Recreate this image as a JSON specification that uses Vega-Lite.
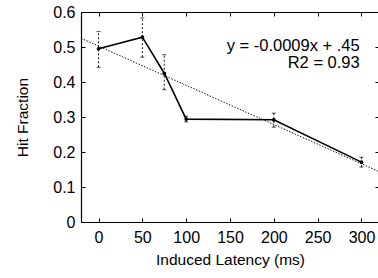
{
  "$schema": "https://vega.github.io/schema/vega-lite/v6.json",
  "autosize": {"type": "none"},
  "padding": {"left": 81, "top": 12, "right": 0, "bottom": 56},
  "width": 298,
  "height": 210,
  "background": "white",
  "config": {
    "view": {"stroke": null},
    "font": "Liberation Sans",
    "axis": {
      "domainColor": "black", "domainWidth": 1.2, "tickColor": "black", "tickSize": -4,
      "grid": false, "labelFont": "Liberation Sans", "labelFontSize": 16, "labelColor": "black",
      "titleFont": "Liberation Sans", "titleFontSize": 15.5, "titleFontWeight": "normal", "titleColor": "black"
    }
  },
  "datasets": {
    "pts": [
      {"latency": 0, "hit": 0.495, "lo": 0.442, "hi": 0.544},
      {"latency": 50, "hit": 0.528, "lo": 0.471, "hi": 0.583},
      {"latency": 75, "hit": 0.425, "lo": 0.378, "hi": 0.478},
      {"latency": 100, "hit": 0.294, "lo": 0.286, "hi": 0.302},
      {"latency": 200, "hit": 0.292, "lo": 0.271, "hi": 0.311},
      {"latency": 300, "hit": 0.171, "lo": 0.157, "hi": 0.185}
    ],
    "trend": [
      {"latency": -20, "hit": 0.525},
      {"latency": 320, "hit": 0.144}
    ],
    "notes": [
      {"latency": 298, "hit": 0.503, "label": "y = -0.0009x + .45"},
      {"latency": 298, "hit": 0.454, "label": "R2 = 0.93"}
    ]
  },
  "resolve": {"axis": {"x": "independent", "y": "independent"}},
  "layer": [
    {
      "data": {"name": "pts"},
      "mark": {"type": "line", "color": "black", "strokeWidth": 1.6, "clip": true},
      "encoding": {
        "x": {"field": "latency", "type": "quantitative",
              "scale": {"domain": [-20, 320], "nice": false, "zero": false},
              "axis": {"values": [0, 50, 100, 150, 200, 250, 300], "title": "Induced Latency (ms)", "labelPadding": 11, "titlePadding": 7, "orient": "bottom"}},
        "y": {"field": "hit", "type": "quantitative",
              "scale": {"domain": [0, 0.6], "nice": false},
              "axis": {"values": [0, 0.1, 0.2, 0.3, 0.4, 0.5, 0.6], "labelExpr": "datum.value == 0 ? '0' : format(datum.value, '.1f')", "title": "Hit Fraction", "labelPadding": 10, "titlePadding": 22, "orient": "left"}}
      }
    },
    {
      "data": {"name": "pts"},
      "mark": {"type": "point", "filled": true, "color": "black", "size": 14, "opacity": 1},
      "encoding": {
        "x": {"field": "latency", "type": "quantitative",
              "axis": {"orient": "top", "values": [0, 50, 100, 150, 200, 250, 300], "labels": false, "title": null}},
        "y": {"field": "hit", "type": "quantitative",
              "axis": {"orient": "right", "values": [0, 0.1, 0.2, 0.3, 0.4, 0.5, 0.6], "labels": false, "title": null, "domain": false}}
      }
    },
    {
      "data": {"name": "trend"},
      "mark": {"type": "line", "color": "black", "strokeWidth": 0.9, "strokeDash": [1.5, 1.5], "clip": true},
      "encoding": {
        "x": {"field": "latency", "type": "quantitative", "axis": null},
        "y": {"field": "hit", "type": "quantitative", "axis": null}
      }
    },
    {
      "data": {"name": "pts"},
      "mark": {"type": "rule", "color": "black", "strokeWidth": 0.9, "strokeDash": [2, 2]},
      "encoding": {
        "x": {"field": "latency", "type": "quantitative", "axis": null},
        "y": {"field": "lo", "type": "quantitative", "axis": null},
        "y2": {"field": "hi"}
      }
    },
    {
      "data": {"name": "pts"},
      "mark": {"type": "tick", "orient": "horizontal", "color": "black", "size": 4, "thickness": 1},
      "encoding": {
        "x": {"field": "latency", "type": "quantitative", "axis": null},
        "y": {"field": "lo", "type": "quantitative", "axis": null}
      }
    },
    {
      "data": {"name": "pts"},
      "mark": {"type": "tick", "orient": "horizontal", "color": "black", "size": 4, "thickness": 1},
      "encoding": {
        "x": {"field": "latency", "type": "quantitative", "axis": null},
        "y": {"field": "hi", "type": "quantitative", "axis": null}
      }
    },
    {
      "data": {"name": "notes"},
      "mark": {"type": "text", "align": "right", "baseline": "middle", "fontSize": 16.5, "color": "black", "font": "Liberation Sans"},
      "encoding": {
        "x": {"field": "latency", "type": "quantitative", "axis": null},
        "y": {"field": "hit", "type": "quantitative", "axis": null},
        "text": {"field": "label"}
      }
    }
  ]
}
